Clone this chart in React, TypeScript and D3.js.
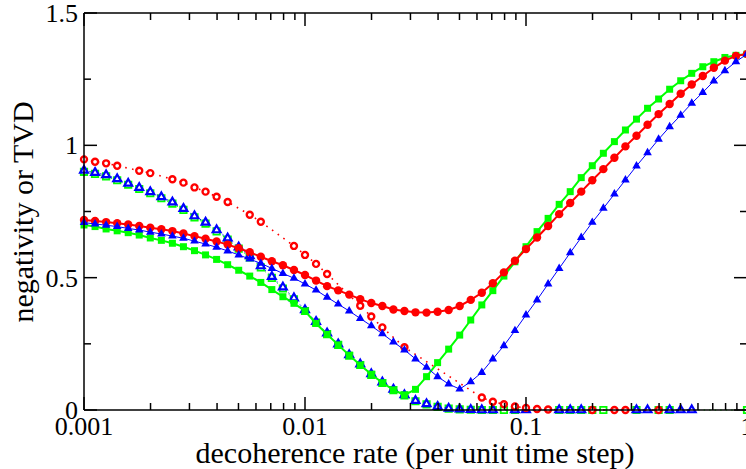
import React from "react";
import * as d3 from "d3";

const rates = [
  0.001, 0.001122, 0.001259, 0.001413, 0.001585, 0.001778, 0.001995, 0.002239, 0.002512, 0.002818,
  0.003162, 0.003548, 0.003981, 0.004467, 0.005012, 0.005623, 0.00631, 0.007079, 0.007943, 0.008913,
  0.01, 0.01122, 0.01259, 0.01413, 0.01585, 0.01778, 0.01995, 0.02239, 0.02512, 0.02818,
  0.03162, 0.03548, 0.03981, 0.04467, 0.05012, 0.05623, 0.0631, 0.07079, 0.07943, 0.08913,
  0.1, 0.1122, 0.1259, 0.1413, 0.1585, 0.1778, 0.1995, 0.2239, 0.2512, 0.2818,
  0.3162, 0.3548, 0.3981, 0.4467, 0.5012, 0.5623, 0.631, 0.7079, 0.7943, 0.8913, 1,
];

const redFilled = [
  0.718, 0.714, 0.71, 0.706, 0.701, 0.695, 0.689, 0.683, 0.676, 0.667,
  0.657, 0.647, 0.637, 0.625, 0.611, 0.596, 0.579, 0.562, 0.547, 0.529,
  0.51, 0.489, 0.468, 0.452, 0.436, 0.419, 0.404, 0.393, 0.38, 0.374,
  0.369, 0.368, 0.371, 0.378, 0.393, 0.416, 0.443, 0.479, 0.52, 0.564,
  0.608, 0.652, 0.695, 0.74, 0.782, 0.825, 0.868, 0.91, 0.953, 0.996,
  1.036, 1.078, 1.118, 1.156, 1.195, 1.23, 1.262, 1.293, 1.32, 1.338, 1.345,
];

const greenFilled = [
  0.699, 0.693, 0.684, 0.677, 0.67, 0.661, 0.65, 0.641, 0.63, 0.617,
  0.602, 0.586, 0.569, 0.549, 0.528, 0.506, 0.482, 0.455, 0.428, 0.403,
  0.374, 0.327, 0.286, 0.246, 0.207, 0.17, 0.135, 0.103, 0.076, 0.057,
  0.078, 0.126, 0.179, 0.23, 0.283, 0.34, 0.397, 0.451, 0.506, 0.56,
  0.617, 0.674, 0.724, 0.777, 0.825, 0.878, 0.923, 0.97, 1.014, 1.058,
  1.099, 1.14, 1.175, 1.212, 1.244, 1.272, 1.297, 1.316, 1.332, 1.34, 1.345,
];

const blueFilled = [
  0.708, 0.703, 0.698, 0.693, 0.686, 0.68, 0.672, 0.665, 0.657, 0.649,
  0.638, 0.627, 0.615, 0.601, 0.586, 0.57, 0.554, 0.535, 0.516, 0.498,
  0.476, 0.453, 0.426, 0.4, 0.374, 0.346, 0.318, 0.288, 0.257, 0.227,
  0.193, 0.161, 0.126, 0.098, 0.079, 0.107, 0.142, 0.193, 0.243, 0.3,
  0.359, 0.416, 0.476, 0.535, 0.594, 0.652, 0.709, 0.762, 0.816, 0.869,
  0.922, 0.972, 1.023, 1.07, 1.114, 1.159, 1.2, 1.243, 1.282, 1.316, 1.345,
];

const N = null;

const redOpen = [
  0.947, 0.938, 0.932, 0.923, N, 0.904, 0.895, N, 0.872, 0.859,
  0.841, 0.825, 0.806, 0.786, N, 0.738, 0.711, N, N, 0.62,
  0.586, 0.552, 0.514, N, N, 0.394, 0.353, 0.312, N, 0.237,
  N, N, N, N, N, N, 0.047, 0.031, 0.022, 0.013,
  0.008, 0.004, 0.002, N, N, N, 0, N, 0, 0,
  N, N, 0, N, N, N, N, N, N, N, N,
];

const greenOpen = [
  0.9, 0.892, 0.883, 0.868, 0.851, 0.835, 0.819, 0.8, 0.78, 0.756,
  0.728, 0.704, 0.675, 0.644, 0.61, 0.577, 0.539, 0.499, 0.459, 0.418,
  0.374, 0.33, 0.287, 0.246, 0.205, 0.17, 0.133, 0.102, 0.075, 0.055,
  0.033, 0.021, 0.012, 0.005, 0.002, 0.001, 0, 0, 0, 0,
  N, N, N, 0, 0, 0, 0, 0, N, N,
  0, N, 0, 0, N, N, N, N, N, N, 0,
];

const blueOpen = [
  0.905, 0.897, 0.888, 0.873, 0.856, 0.84, 0.824, 0.805, 0.785, 0.761,
  0.733, 0.709, 0.68, 0.649, 0.615, 0.582, 0.544, 0.504, 0.464, 0.423,
  0.378, 0.334, 0.29, 0.249, 0.208, 0.173, 0.136, 0.105, 0.078, 0.057,
  0.035, 0.023, 0.013, 0.006, 0.003, 0.001, 0, 0, N, 0,
  0, N, N, 0, 0, 0, N, N, N, N,
  0, 0, N, 0, 0, 0, N, N, N, N, N,
];

const xMajorTicks = [0.001, 0.01, 0.1, 1];
const xMajorLabels = ["0.001", "0.01", "0.1", "1"];
const yMajorTicks = [0, 0.5, 1, 1.5];
const yMajorLabels = ["0", "0.5", "1", "1.5"];
const yMinorTicks = [0.25, 0.75, 1.25];
const minorMultipliers = [2, 3, 4, 5, 6, 7, 8, 9];

const W = 746;
const H = 469;
const L = 84;
const R = 747;
const T = 13;
const B = 410;
const FONT = "'Liberation Serif', 'Times New Roman', Times, serif";

type Pt = [number, number];

function pts(vals: (number | null)[]): Pt[] {
  const out: Pt[] = [];
  vals.forEach((v, i) => {
    if (v !== null && v !== undefined) out.push([rates[i], v]);
  });
  return out;
}

export default function App() {
  const x = d3.scaleLog().domain([0.001, 1]).range([L, R]);
  const y = d3.scaleLinear().domain([0, 1.5]).range([B, T]);
  const line = d3
    .line<Pt>()
    .x((d) => x(d[0]))
    .y((d) => y(d[1]));

  const circle = d3.symbol().type(d3.symbolCircle).size(Math.PI * 4.2 * 4.2)();
  const square = d3.symbol().type(d3.symbolSquare).size(7 * 7)();
  const tri = d3.symbol().type(d3.symbolTriangle).size(32)();
  const circleOpen = d3.symbol().type(d3.symbolCircle).size(Math.PI * 3.0 * 3.0)();
  const squareOpen = d3.symbol().type(d3.symbolSquare).size(6.4 * 6.4)();
  const triOpen = d3.symbol().type(d3.symbolTriangle).size(26)();

  const minorX: number[] = [];
  [0.001, 0.01, 0.1].forEach((d) => minorMultipliers.forEach((m) => minorX.push(d * m)));

  const markers = (data: Pt[], path: string | null, fill: string, stroke: string, sw: number, key: string) =>
    data.map((d, i) => (
      <path
        key={key + i}
        d={path || ""}
        transform={`translate(${x(d[0])},${y(d[1])})`}
        fill={fill}
        stroke={stroke}
        strokeWidth={sw}
      />
    ));

  const rf = pts(redFilled);
  const gf = pts(greenFilled);
  const bf = pts(blueFilled);
  const ro = pts(redOpen);
  const go = pts(greenOpen);
  const bo = pts(blueOpen);

  const red = "#ff0000";
  const green = "#00ff00";
  const blue = "#0000ff";

  return (
    <svg
      width={W}
      height={H}
      style={{ position: "absolute", left: 0, top: 0, background: "#fff" }}
    >
      <rect x={0} y={0} width={W} height={H} fill="#fff" />
      {/* open series */}
      <path d={line(go) || ""} fill="none" stroke={green} strokeWidth={1} strokeDasharray="1.5,4" />
      {markers(go, squareOpen, "#fff", green, 1.8, "go")}
      <path d={line(bo) || ""} fill="none" stroke={blue} strokeWidth={1} strokeDasharray="1.5,4" />
      {markers(bo, triOpen, "#fff", blue, 2.2, "bo")}
      <path d={line(ro) || ""} fill="none" stroke={red} strokeWidth={1.6} strokeDasharray="1.6,5.4" />
      {markers(ro, circleOpen, "#fff", red, 2.4, "ro")}
      {/* filled series */}
      <path d={line(gf) || ""} fill="none" stroke={green} strokeWidth={2} />
      {markers(gf, square, green, "none", 0, "gf")}
      <path d={line(rf) || ""} fill="none" stroke={red} strokeWidth={2} />
      {markers(rf, circle, red, "none", 0, "rf")}
      <path d={line(bf) || ""} fill="none" stroke={blue} strokeWidth={1} />
      {markers(bf, tri, blue, "none", 0, "bf")}

      {/* frame */}
      <g stroke="#000" strokeWidth={1.5} fill="none">
        <line x1={L} y1={B} x2={R} y2={B} />
        <line x1={L} y1={T} x2={R} y2={T} />
        <line x1={L} y1={T} x2={L} y2={B} />
        <line x1={R} y1={T} x2={R} y2={B} />
        {xMajorTicks.map((t) => (
          <g key={"xm" + t}>
            <line x1={x(t)} x2={x(t)} y1={B} y2={B - 13} />
            <line x1={x(t)} x2={x(t)} y1={T} y2={T + 13} />
          </g>
        ))}
        {minorX.map((t) => (
          <g key={"xn" + t}>
            <line x1={x(t)} x2={x(t)} y1={B} y2={B - 7} />
            <line x1={x(t)} x2={x(t)} y1={T} y2={T + 7} />
          </g>
        ))}
        {yMajorTicks.map((t) => (
          <g key={"ym" + t}>
            <line x1={L} x2={L + 13} y1={y(t)} y2={y(t)} />
            <line x1={R} x2={R - 13} y1={y(t)} y2={y(t)} />
          </g>
        ))}
        {yMinorTicks.map((t) => (
          <g key={"yn" + t}>
            <line x1={L} x2={L + 7} y1={y(t)} y2={y(t)} />
            <line x1={R} x2={R - 7} y1={y(t)} y2={y(t)} />
          </g>
        ))}
      </g>

      {/* tick labels */}
      <g fontFamily={FONT} fontSize={26} fill="#000">
        {xMajorTicks.map((t, i) => (
          <text key={"xl" + t} x={x(t)} y={435} textAnchor="middle">
            {xMajorLabels[i]}
          </text>
        ))}
        {yMajorTicks.map((t, i) => (
          <text key={"yl" + t} x={78} y={y(t) + 9} textAnchor="end">
            {yMajorLabels[i]}
          </text>
        ))}
      </g>

      <text x={415} y={463} textAnchor="middle" fontFamily={FONT} fontSize={30} fill="#000">
        decoherence rate (per unit time step)
      </text>
      <text
        transform={`translate(33,212) rotate(-90)`}
        textAnchor="middle"
        fontFamily={FONT}
        fontSize={30}
        fill="#000"
      >
        negativity or TVD
      </text>
    </svg>
  );
}
